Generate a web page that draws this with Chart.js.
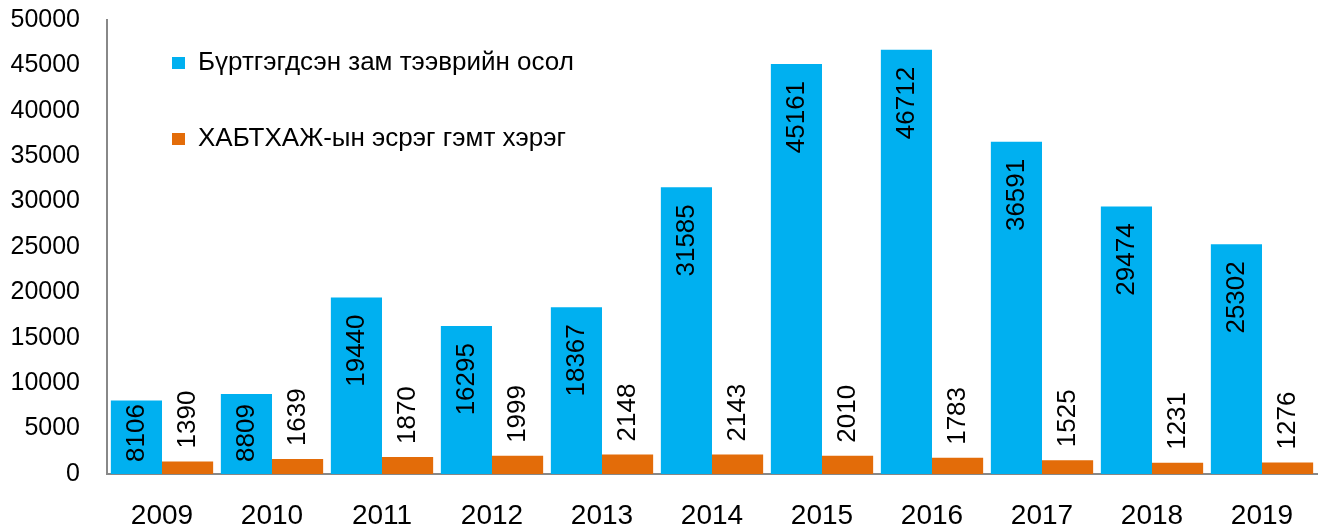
<!DOCTYPE html>
<html>
<head>
<meta charset="utf-8">
<script src="https://cdn.jsdelivr.net/npm/chart.js@4/dist/chart.umd.min.js"></script>
<style>
html,body{margin:0;padding:0;background:#fff;}
#wrap{width:1323px;height:529px;position:relative;}
</style>
</head>
<body>
<div id="wrap"><canvas id="c"></canvas></div>
<script>
const categories = ['2009','2010','2011','2012','2013','2014','2015','2016','2017','2018','2019'];
const seriesNames = ['Бүртгэгдсэн зам тээврийн осол', 'ХАБТХАЖ-ын эсрэг гэмт хэрэг'];
const accidents = [8106, 8809, 19440, 16295, 18367, 31585, 45161, 46712, 36591, 29474, 25302];
const crimes = [1390, 1639, 1870, 1999, 2148, 2143, 2010, 1783, 1525, 1231, 1276];
const yTicks = [0, 5000, 10000, 15000, 20000, 25000, 30000, 35000, 40000, 45000, 50000];

const FONT = '"Liberation Sans", Arial, sans-serif';

const labelPlugin = {
  id: 'barLabels',
  afterDatasetsDraw(chart) {
    const ctx = chart.ctx;
    const base = chart.scales.y.getPixelForValue(0);
    ctx.save();
    ctx.font = '26px ' + FONT;
    ctx.fillStyle = '#000';
    ctx.textBaseline = 'middle';
    chart.data.datasets.forEach((ds, i) => {
      const meta = chart.getDatasetMeta(i);
      meta.data.forEach((bar, j) => {
        const txt = String(ds.data[j]);
        const w = ctx.measureText(txt).width;
        ctx.save();
        if (i === 0) {
          const start = Math.min(bar.y + 17, base - 12 - w);
          ctx.translate(bar.x, start);
          ctx.rotate(-Math.PI / 2);
          ctx.textAlign = 'right';
        } else {
          ctx.translate(bar.x, bar.y - 13);
          ctx.rotate(-Math.PI / 2);
          ctx.textAlign = 'left';
        }
        ctx.fillText(txt, 0, 0);
        ctx.restore();
      });
    });
    ctx.restore();
  }
};

const legendShift = {
  id: 'legendShift',
  afterLayout(chart) {
    if (chart.legend) {
      chart.legend.left += 15;
    }
  }
};

new Chart(document.getElementById('c'), {
  type: 'bar',
  data: {
    labels: categories,
    datasets: [
      { label: seriesNames[0], data: accidents, backgroundColor: '#00B0F0', borderWidth: 0 },
      { label: seriesNames[1], data: crimes, backgroundColor: '#E36C09', borderWidth: 0 }
    ]
  },
  options: {
    responsive: true,
    maintainAspectRatio: false,
    animation: false,
    devicePixelRatio: 1,
    layout: { padding: { left: 0, right: 6, top: 20, bottom: 0 } },
    datasets: { bar: { categoryPercentage: 0.93, barPercentage: 1.0 } },
    plugins: {
      legend: {
        position: 'chartArea',
        fullSize: false,
        align: 'start',
        labels: {
          boxWidth: 13,
          boxHeight: 12,
          padding: 50,
          color: '#000',
          font: { family: FONT, size: 26 }
        }
      },
      tooltip: { enabled: false }
    },
    scales: {
      x: {
        grid: { display: false, drawTicks: false },
        border: { display: true, color: '#888888', width: 2 },
        ticks: { color: '#000', font: { family: FONT, size: 28 }, padding: 25 },
        afterFit(scale) { scale.height = 55; }
      },
      y: {
        min: 0,
        max: 50000,
        grid: { display: false, drawTicks: false },
        border: { display: true, color: '#888888', width: 2 },
        afterBuildTicks(scale) { scale.ticks = yTicks.map(v => ({ value: v })); },
        ticks: { color: '#000', font: { family: FONT, size: 25 }, padding: 27, callback: v => String(v) },
        afterFit(scale) { scale.width = 107; scale.paddingTop = 0; scale.paddingBottom = 0; }
      }
    }
  },
  plugins: [labelPlugin, legendShift]
});
</script>
</body>
</html>
